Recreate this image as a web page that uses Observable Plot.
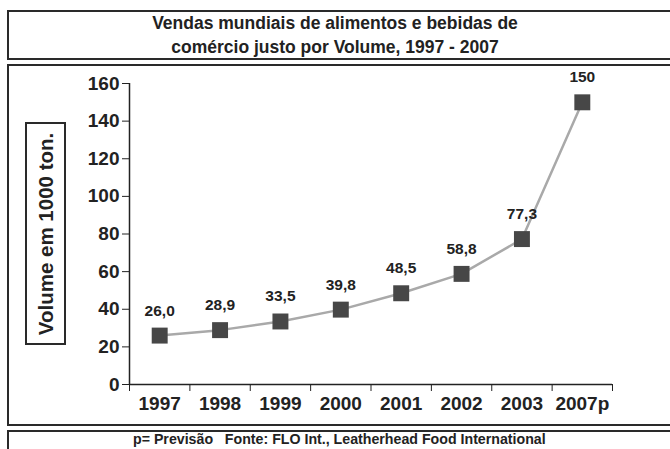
<!DOCTYPE html>
<html>
<head>
<meta charset="utf-8">
<script src="https://cdn.jsdelivr.net/npm/d3@7"></script>
<script src="https://cdn.jsdelivr.net/npm/@observablehq/plot@0.6"></script>
<style>
  html, body { margin: 0; padding: 0; background: #fff; }
  #wrap { position: relative; width: 670px; height: 449px; overflow: hidden; font-family: "Liberation Sans", Arial, sans-serif; color: #222; }
  .box { position: absolute; left: 7px; right: -10px; border: 2px solid #2a2a2a; box-sizing: border-box; }
  #titlebox { top: 10px; height: 50px; }
  #chartbox { top: 64px; height: 362px; }
  #footbox { top: 430px; height: 40px; }
  #title { position: absolute; top: 11px; left: 0; width: 670px; text-align: center; font-weight: bold; font-size: 17.5px; line-height: 24px; }
  #foot { position: absolute; top: 431px; left: 133px; font-weight: bold; font-size: 14.2px; white-space: pre; }
  #chart { position: absolute; top: 66px; left: 0; }
  #ylab { position: absolute; left: 25px; top: 122px; width: 41px; height: 223px; border: 2px solid #2a2a2a; box-sizing: border-box; }
  #ylab span { position: absolute; left: 50%; top: 50%; transform: translate(-50%, -50%) rotate(-90deg); white-space: nowrap; font-weight: bold; font-size: 20.5px; }
</style>
</head>
<body>
<div id="wrap">
  <div class="box" id="titlebox"></div>
  <div class="box" id="chartbox"></div>
  <div class="box" id="footbox"></div>
  <div id="title">Vendas mundiais de alimentos e bebidas de<br>comércio justo por Volume, 1997 - 2007</div>
  <div id="chart"></div>
  <div id="ylab"><span>Volume em 1000 ton.</span></div>
  <div id="foot">p= Previsão   Fonte: FLO Int., Leatherhead Food International</div>
</div>
<script>
const years = ["1997", "1998", "1999", "2000", "2001", "2002", "2003", "2007p"];
const volumes = [26.0, 28.9, 33.5, 39.8, 48.5, 58.8, 77.3, 150];
const valueLabels = ["26,0", "28,9", "33,5", "39,8", "48,5", "58,8", "77,3", "150"];
const yTicks = [0, 20, 40, 60, 80, 100, 120, 140, 160];

const data = years.map((y, i) => ({ i, year: y, v: volumes[i], label: valueLabels[i] }));
const idx = years.map((_, i) => i);
const bounds = d3.range(years.length + 1).map(i => i - 0.5);

const chart = Plot.plot({
  width: 670,
  height: 358,
  marginTop: 17,
  marginBottom: 40,
  marginLeft: 129,
  marginRight: 58,
  style: { fontFamily: "Liberation Sans, Arial, sans-serif", color: "#222", background: "transparent", overflow: "visible" },
  x: { type: "linear", domain: [-0.5, years.length - 0.5] },
  y: { domain: [0, 160] },
  marks: [
    Plot.ruleX([-0.5], { y1: 0, y2: 160, stroke: "#222", strokeWidth: 1.5 }),
    Plot.ruleY([0], { x1: -0.5, x2: years.length - 0.5, stroke: "#222", strokeWidth: 1.5 }),
    Plot.axisY({ ticks: yTicks, tickSize: 7, tickPadding: 3, fontSize: 19, fontWeight: "bold", label: null, stroke: "#222" }),
    Plot.axisX({ ticks: bounds, tickSize: 7, tickFormat: () => "", label: null, stroke: "#222" }),
    Plot.axisX({ ticks: idx, tickSize: 0, tickPadding: 12, tickFormat: i => years[i], fontSize: 19, fontWeight: "bold", label: null }),
    Plot.line(data, { x: "i", y: "v", stroke: "#a9a9a9", strokeWidth: 2.5 }),
    Plot.dot(data, { x: "i", y: "v", symbol: "square", r: 9, fill: "#474747", stroke: "none" }),
    Plot.text(data, { x: "i", y: "v", text: "label", dy: -25, fontSize: 15.5, fontWeight: "bold", fill: "#222" })
  ]
});
document.getElementById("chart").appendChild(chart);
</script>
</body>
</html>
